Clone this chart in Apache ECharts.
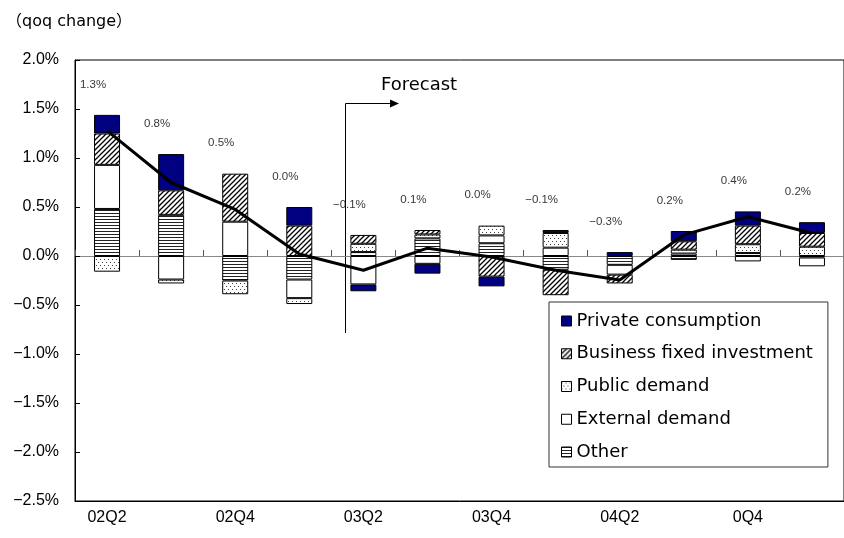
<!DOCTYPE html>
<html>
<head>
<meta charset="utf-8">
<script src="https://cdn.jsdelivr.net/npm/echarts@6/dist/echarts.min.js"></script>
<style>
  html, body { margin: 0; padding: 0; background: #fff; }
  #chart { width: 844px; height: 538px; }
</style>
</head>
<body>
<div id="chart"></div>
<script>
// quarters and the labels shown under the axis
var categories = ['02Q2', '02Q3', '02Q4', '03Q1', '03Q2', '03Q3', '03Q4', '04Q1', '04Q2', '04Q3', '04Q4', '05Q1']
var tickLabels = ['02Q2', '02Q4', '03Q2', '03Q4', '04Q2', '0Q4']

// contributions (% points), stacked from zero outward in this order
var other    = [0.48, 0.42, -0.25, -0.24, 0.04, 0.18, 0.13, -0.14, -0.09, -0.04, 0.03, -0.015]
var external = [0.45, -0.24, 0.35, -0.19, -0.29, -0.08, 0.08, 0.085, -0.10, 0.025, -0.055, -0.09]
var publicD  = [-0.16, -0.04, -0.14, -0.06, 0.085, 0.04, 0.10, 0.15, null, 0.04, 0.09, 0.095]
var business = [0.32, 0.25, 0.49, 0.31, 0.09, 0.045, -0.21, -0.26, -0.09, 0.085, 0.19, 0.14]
var privateC = [0.19, 0.37, null, 0.19, -0.07, -0.10, -0.10, 0.03, 0.04, 0.105, 0.145, 0.11]

// real GDP growth (line) and the printed figures
var totals = [1.28, 0.75, 0.475, 0.02, -0.145, 0.08, -0.01, -0.145, -0.245, 0.215, 0.40, 0.232]
var totalLabels = ['1.3%', '0.8%', '0.5%', '0.0%', '\u22120.1%', '0.1%', '0.0%', '\u22120.1%', '\u22120.3%', '0.2%', '0.4%', '0.2%']

// 网格花纹
function makePattern (w, h, draw) {
  var c = document.createElement('canvas')
  c.width = w
  c.height = h
  var ctx = c.getContext('2d')
  ctx.fillStyle = '#fff'
  ctx.fillRect(0, 0, w, h)
  draw(ctx)
  return { image: c, repeat: 'repeat' }
}

var hatch = makePattern(5, 5, function (ctx) {
  ctx.strokeStyle = '#000'
  ctx.lineWidth = 1.3
  ctx.beginPath()
  ctx.moveTo(0, 5); ctx.lineTo(5, 0)
  ctx.moveTo(-1, 1); ctx.lineTo(1, -1)
  ctx.moveTo(4, 6); ctx.lineTo(6, 4)
  ctx.stroke()
})
var dots = makePattern(4, 6, function (ctx) {
  ctx.fillStyle = '#444'
  ctx.fillRect(0, 1, 1, 1)
  ctx.fillRect(2, 4, 1, 1)
})
var stripes = makePattern(4, 3, function (ctx) {
  ctx.fillStyle = '#222'
  ctx.fillRect(0, 0, 4, 1)
})

// top of the positive stack, used to hang the figures
var posTop = categories.map(function (c, i) {
  return [other, external, publicD, business, privateC].reduce(function (s, arr) {
    return arr[i] > 0 ? s + arr[i] : s
  }, 0)
})

function barSeries (name, data, color) {
  return {
    name: name,
    type: 'bar',
    stack: 'gdp',
    barWidth: 26,
    data: data,
    itemStyle: { color: color, borderColor: '#000', borderWidth: 1 }
  }
}

var myChart = echarts.init(document.getElementById('chart'), null, { renderer: 'canvas' })

var options = {
  animation: false,
  textStyle: { fontFamily: 'Liberation Sans' },
  grid: {
    left: 75,
    top: 60,
    width: 779,
    height: 441,
    show: true,
    borderColor: '#000',
    borderWidth: 1
  },
  legend: {
    data: ['Private consumption', 'Business fixed investment', 'Public demand', 'External demand', 'Other'],
    orient: 'vertical',
    left: 549,
    top: 302,
    padding: [10, 15, 6, 12],
    itemWidth: 10,
    itemHeight: 10,
    itemGap: 14.75,
    icon: 'rect',
    borderColor: '#333',
    borderWidth: 1,
    backgroundColor: '#fff',
    itemStyle: { borderColor: '#000', borderWidth: 1 },
    textStyle: { fontFamily: 'DejaVu Sans', fontSize: 18, color: '#000' }
  },
  xAxis: [
    {
      type: 'category',
      data: categories,
      position: 'bottom',
      boundaryGap: true,
      axisLine: { onZero: false, lineStyle: { color: '#000' } },
      axisTick: { show: false },
      axisLabel: {
        interval: 0,
        margin: 9,
        fontSize: 16,
        color: '#000',
        formatter: function (v, i) { return i % 2 === 0 ? tickLabels[i / 2] : '' }
      }
    },
    {
      type: 'category',
      data: categories,
      position: 'bottom',
      boundaryGap: true,
      axisLine: { onZero: true, lineStyle: { color: '#888', width: 1 } },
      axisTick: { show: true, inside: true, length: 6, lineStyle: { color: '#555' } },
      axisLabel: { show: false }
    }
  ],
  yAxis: {
    type: 'value',
    min: -2.5,
    max: 2.0,
    interval: 0.5,
    splitLine: { show: false },
    axisLine: { show: true, lineStyle: { color: '#000' } },
    axisTick: { show: true, inside: true, length: 5, lineStyle: { color: '#000' } },
    axisLabel: {
      margin: 16,
      fontSize: 16,
      color: '#000',
      formatter: function (v) {
        return (v < 0 ? '\u2212' : '') + Math.abs(v).toFixed(1) + '%'
      }
    }
  },
  series: [
    barSeries('Other', other, stripes),
    barSeries('External demand', external, '#fff'),
    barSeries('Public demand', publicD, dots),
    barSeries('Business fixed investment', business, hatch),
    barSeries('Private consumption', privateC, '#000080'),
    {
      name: 'Real GDP',
      type: 'line',
      data: totals,
      z: 5,
      symbol: 'none',
      lineStyle: { color: '#000', width: 3 }
    },
    {
      name: 'figures',
      type: 'scatter',
      data: posTop,
      symbolSize: 1,
      itemStyle: { color: 'rgba(0,0,0,0)' },
      silent: true,
      label: {
        show: true,
        position: 'top',
        distance: 24,
        offset: [-14, 0],
        fontSize: 11.5,
        color: '#000',
        formatter: function (p) { return totalLabels[p.dataIndex] }
      }
    }
  ],
  graphic: [
    {
      type: 'text',
      style: { text: '（qoq change）', x: 6, y: 22, verticalAlign: 'middle', font: '16px "DejaVu Sans", "Noto Sans CJK JP"', fill: '#000' }
    },
    { type: 'line', shape: { x1: 345.5, y1: 333, x2: 345.5, y2: 103.5 }, style: { stroke: '#000', lineWidth: 1 } },
    { type: 'line', shape: { x1: 345.5, y1: 103.5, x2: 391, y2: 103.5 }, style: { stroke: '#000', lineWidth: 1 } },
    { type: 'polygon', shape: { points: [[390, 99.5], [399, 103.5], [390, 107.5]] }, style: { fill: '#000' } },
    {
      type: 'text',
      style: { text: 'Forecast', x: 381, y: 85, verticalAlign: 'middle', font: '18px "DejaVu Sans"', fill: '#000' }
    }
  ]
}

myChart.setOption(options)
</script>
</body>
</html>
